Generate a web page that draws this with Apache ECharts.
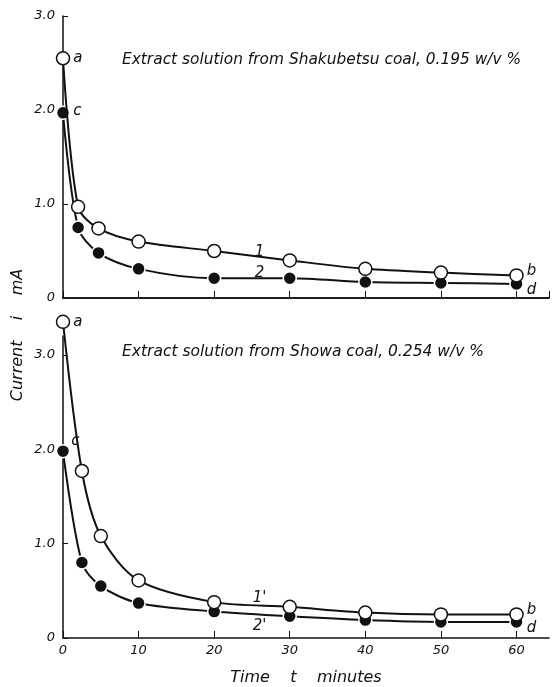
<!DOCTYPE html>
<html><head><meta charset="utf-8">
<script src="https://cdn.jsdelivr.net/npm/echarts@6/dist/echarts.min.js"></script>
<style>html,body{margin:0;padding:0;background:#fff}#c{width:553px;height:687px}</style>
</head><body><div id="c"></div>
<script>
// ---- data ----
const timeTop = [0, 2, 4.7, 10, 20, 30, 40, 50, 60];
const shakubetsu1 = [2.55, 0.97, 0.74, 0.60, 0.50, 0.40, 0.31, 0.27, 0.24];
const shakubetsu2 = [1.97, 0.75, 0.48, 0.31, 0.21, 0.21, 0.17, 0.16, 0.15];
const timeBottom = [0, 2.5, 5, 10, 20, 30, 40, 50, 60];
const showa1 = [3.35, 1.77, 1.08, 0.61, 0.38, 0.33, 0.27, 0.25, 0.25];
const showa2 = [1.98, 0.80, 0.55, 0.37, 0.28, 0.23, 0.19, 0.17, 0.17];
const xTickLabels = ['0', '10', '20', '30', '40', '50', '60'];
const yTickLabels = ['0', '1.0', '2.0', '3.0'];
const titleTop = 'Extract solution from Shakubetsu coal, 0.195 w/v %';
const titleBottom = 'Extract solution from Showa coal, 0.254 w/v %';
const curveNamesTop = [['1', 26, 0.49], ['2', 26, 0.27]];
const curveNamesBottom = [["1'", 26, 0.42], ["2'", 26, 0.13]];

const FONT = 'DejaVu Sans';
const txt = {fontFamily: FONT, fontStyle: 'italic', color: '#111', fontSize: 14};

function pts(ts, vs, first, last, firstOff, lastOff) {
  return ts.map((t, i) => {
    const d = {value: [t, vs[i]]};
    if (i === 0) d.label = {show: true, formatter: first, position: 'right', offset: firstOff, ...txt, fontSize: 15};
    if (i === ts.length - 1) d.label = {show: true, formatter: last, position: 'right', offset: lastOff, ...txt, fontSize: 15};
    return d;
  });
}
function marks(list) {
  return {symbol: 'circle', symbolSize: 0, silent: true,
    data: list.map(m => ({coord: [m[1], m[2]], label: {show: true, formatter: m[0], position: 'inside', ...txt, fontSize: 15}}))};
}
const openStyle = {symbol: 'circle', symbolSize: 13, itemStyle: {color: '#fff', borderColor: '#111', borderWidth: 1.5}};
const fillStyle = {symbol: 'circle', symbolSize: 13, itemStyle: {color: '#111', borderColor: '#fff', borderWidth: 1.5}};
const lineStyle = {color: '#111', width: 2};

function yAx(idx, max) {
  return {type: 'value', gridIndex: idx, min: 0, max: max, interval: 1,
    axisLine: {show: true, lineStyle: {color: '#111', width: 1.5}},
    axisTick: {show: true, inside: true, length: 5, lineStyle: {color: '#111'}},
    splitLine: {show: false},
    axisLabel: {show: true, showMaxLabel: max === 3, margin: 8, ...txt, fontSize: 13,
      formatter: v => (Number.isInteger(v) && yTickLabels[v] !== undefined) ? yTickLabels[v] : ''}};
}
function xAx(idx, showLabels) {
  return {type: 'value', gridIndex: idx, min: 0, max: 64.3, interval: 10,
    axisLine: {show: true, onZero: false, lineStyle: {color: '#111', width: 1.5}},
    axisTick: {show: true, inside: true, length: 7, lineStyle: {color: '#111'}},
    splitLine: {show: false},
    axisLabel: {show: showLabels, showMaxLabel: false, margin: 6, ...txt, fontSize: 13,
      formatter: v => (v % 10 === 0 && xTickLabels[v / 10] !== undefined) ? xTickLabels[v / 10] : ''}};
}

const chart = echarts.init(document.getElementById('c'), null, {renderer: 'canvas'});
const xTop2 = {type: 'value', gridIndex: 0, position: 'top', min: 0, max: 64.3,
  axisLine: {show: true, lineStyle: {color: '#111', width: 1.5}}, axisTick: {show: false},
  axisLabel: {show: false}, splitLine: {show: false}};
const xBottom = xAx(1, true);
xBottom.name = 'Time    t    minutes';
xBottom.nameLocation = 'middle';
xBottom.nameGap = 32;
xBottom.nameTextStyle = {...txt, fontSize: 16};

const SM = 0.3;
chart.setOption({
  animation: false,
  grid: [
    {left: 63, right: 4, top: 16, height: 282},
    {left: 63, right: 4, top: 336, height: 304}
  ],
  xAxis: [xAx(0, false), xBottom, xTop2],
  yAxis: [yAx(0, 3), yAx(1, 3.2)],
  graphic: [
    {type: 'text', left: 122, top: 52, style: {text: titleTop, font: 'italic 15.4px "DejaVu Sans"', fill: '#111'}},
    {type: 'text', left: 122, top: 344, style: {text: titleBottom, font: 'italic 15.5px "DejaVu Sans"', fill: '#111'}},
    {type: 'text', x: 18, y: 335, rotation: Math.PI / 2, style: {text: 'Current    i    mA', font: 'italic 16px "DejaVu Sans"', fill: '#111', align: 'center', verticalAlign: 'middle'}}
  ],
  series: [
    {type: 'line', xAxisIndex: 0, yAxisIndex: 0, smooth: SM, clip: false, lineStyle, ...openStyle, z: 3,
      data: pts(timeTop, shakubetsu1, 'a', 'b', [-2, 0], [-2, -4]), markPoint: marks(curveNamesTop.slice(0, 1))},
    {type: 'line', xAxisIndex: 0, yAxisIndex: 0, smooth: SM, clip: false, lineStyle, ...fillStyle, z: 2,
      data: pts(timeTop, shakubetsu2, 'c', 'd', [-2, -2], [-2, 6]), markPoint: marks(curveNamesTop.slice(1))},
    {type: 'line', xAxisIndex: 1, yAxisIndex: 1, smooth: SM, clip: false, lineStyle, ...openStyle, z: 3,
      data: pts(timeBottom, showa1, 'a', 'b', [-2, 0], [-2, -4]), markPoint: marks(curveNamesBottom.slice(0, 1))},
    {type: 'line', xAxisIndex: 1, yAxisIndex: 1, smooth: SM, clip: false, lineStyle, ...fillStyle, z: 2,
      data: pts(timeBottom, showa2, 'c', 'd', [-4, -10], [-2, 6]), markPoint: marks(curveNamesBottom.slice(1))}
  ]
});
</script></body></html>
